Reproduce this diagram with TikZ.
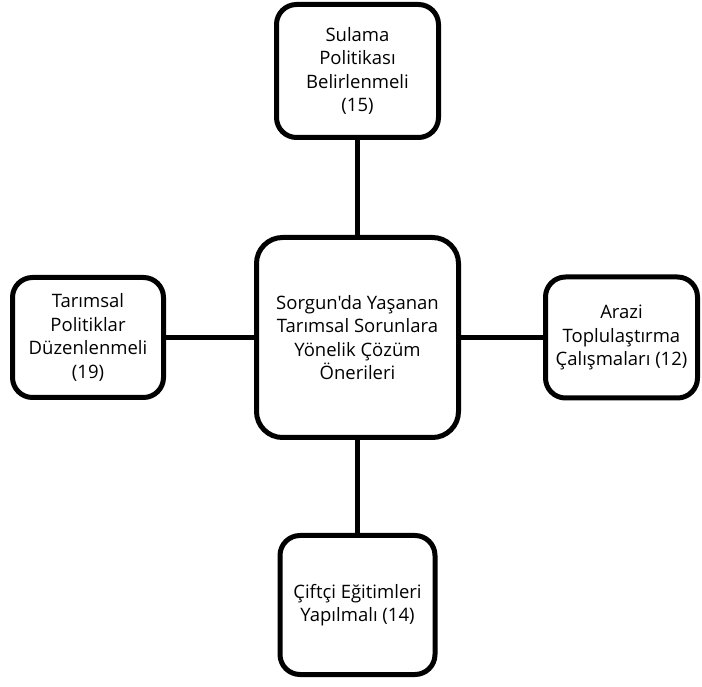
\documentclass[tikz,border=0pt]{standalone}
\usepackage{fontspec}
\setmainfont{Open Sans}[Ligatures=TeXOff]
\usetikzlibrary{positioning}

\begin{document}
\begin{tikzpicture}[x=1pt, y=1pt,
                kutu/.style={rectangle,
                rounded corners=20pt,
                draw=black,
                line width=5pt,
                fill=white,
                inner sep=2pt,
                font=\fontsize{18.5}{23.5}\selectfont,
                align=center},
                bag/.style={black, line width=5pt},
                node distance=90pt]
                \useasboundingbox (0,0) rectangle (702,686);
                \node[kutu, minimum width=202pt, minimum height=200pt,
                      rounded corners=26pt] (merkez) at (357.5,348.5)
                    {Sorgun'da Yaşanan\\Tarımsal Sorunlara\\Yönelik Çözüm\\Önerileri};
                \node[kutu, above=95pt of merkez, minimum width=162pt,
                      minimum height=133pt] (sulama)
                    {Sulama\\Politikası\\Belirlenmeli\\(15)};
                \node[kutu, left=88pt of merkez, minimum width=151pt,
                      minimum height=120pt] (politika)
                    {Tarımsal\\Politiklar\\Düzenlenmeli\\(19)};
                \node[kutu, right=82pt of merkez, minimum width=152pt,
                      minimum height=121pt] (arazi)
                    {Arazi\\Toplulaştırma\\Çalışmaları (12)};
                \node[kutu, below=93pt of merkez, minimum width=155pt,
                      minimum height=139pt] (egitim)
                    {Çiftçi Eğitimleri\\Yapılmalı (14)};
                \draw[bag] (merkez)--(sulama);
                \draw[bag] (merkez)--(politika);
                \draw[bag] (merkez)--(arazi);
                \draw[bag] (merkez)--(egitim);
            \end{tikzpicture}
\end{document}
